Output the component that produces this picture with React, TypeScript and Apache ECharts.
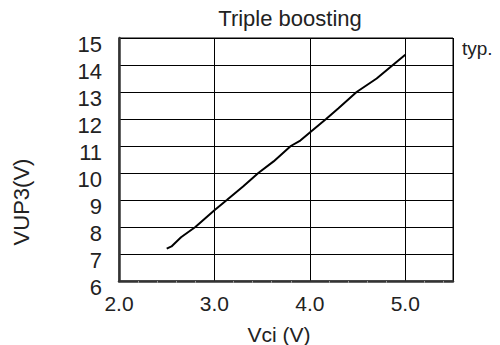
import React, { useEffect, useRef } from "react";
import * as echarts from "echarts";

const vciValues = [2.5, 2.55, 2.65, 2.8, 3.0, 3.13, 3.3, 3.46, 3.62, 3.8, 3.9, 4.0, 4.17, 4.3, 4.49, 4.7, 4.87, 5.0];
const vup3Values = [7.2, 7.28, 7.62, 8.0, 8.62, 9.0, 9.5, 10.0, 10.43, 11.0, 11.2, 11.5, 12.0, 12.4, 13.0, 13.5, 14.0, 14.38];
const titleText = "Triple boosting";
const xName = "Vci (V)";
const yName = "VUP3(V)";
const noteText = "typ.";

const FONT = "'Liberation Sans', Arial, sans-serif";

export default function App() {
  const ref = useRef<HTMLDivElement>(null);
  useEffect(() => {
    if (!ref.current) return;
    const chart = echarts.init(ref.current, undefined, { renderer: "svg" });
    const data = vciValues.map((x, i) => [x, vup3Values[i]]);
    chart.setOption({
      animation: false,
      backgroundColor: "#fff",
      textStyle: { fontFamily: FONT },
      grid: {
        left: 119,
        top: 38,
        width: 334,
        height: 243,
        show: true,
        borderColor: "#000",
        borderWidth: 1,
        containLabel: false,
      },
      xAxis: {
        type: "value",
        min: 2,
        max: 5.5,
        interval: 1,
        axisLine: { show: true, onZero: false, lineStyle: { color: "#333", width: 2.5 } },
        axisTick: { show: false },
        minorTick: { show: true, splitNumber: 5, length: 2, lineStyle: { color: "#999", width: 1 } },
        splitLine: { show: true, lineStyle: { color: "#000", width: 1 } },
        axisLabel: {
          showMaxLabel: false,
          margin: 12,
          color: "#222",
          fontSize: 21,
          fontFamily: FONT,
          formatter: (v: number) => v.toFixed(1),
        },
      },
      yAxis: {
        type: "value",
        min: 6,
        max: 15,
        interval: 1,
        axisLine: { show: true, onZero: false, lineStyle: { color: "#333", width: 2.5 } },
        axisTick: { show: false },
        splitLine: { show: true, lineStyle: { color: "#000", width: 1 } },
        axisLabel: {
          margin: 17,
          color: "#222",
          fontSize: 22,
          fontFamily: FONT,
          verticalAlign: "top",
          lineHeight: 12,
        },
      },
      series: [
        {
          type: "line",
          data,
          showSymbol: false,
          smooth: false,
          lineStyle: { color: "#000", width: 2 },
        },
      ],
      graphic: [
        {
          type: "text",
          x: 290,
          y: 18,
          style: {
            text: titleText,
            fill: "#222",
            font: `22px ${FONT}`,
            textAlign: "center",
            textVerticalAlign: "middle",
          },
        },
        {
          type: "text",
          x: 462,
          y: 48,
          style: {
            text: noteText,
            fill: "#222",
            font: `19px ${FONT}`,
            textAlign: "left",
            textVerticalAlign: "middle",
          },
        },
        {
          type: "text",
          x: 279,
          y: 334,
          style: {
            text: xName,
            fill: "#222",
            font: `21px ${FONT}`,
            textAlign: "center",
            textVerticalAlign: "middle",
          },
        },
        {
          type: "text",
          x: 21,
          y: 202,
          rotation: Math.PI / 2,
          style: {
            text: yName,
            fill: "#222",
            font: `22px ${FONT}`,
            textAlign: "center",
            textVerticalAlign: "middle",
          },
        },
      ],
    });
    return () => chart.dispose();
  }, []);
  return (
    <div
      ref={ref}
      style={{ position: "fixed", left: 0, top: 0, width: 500, height: 345, background: "#fff" }}
    />
  );
}
